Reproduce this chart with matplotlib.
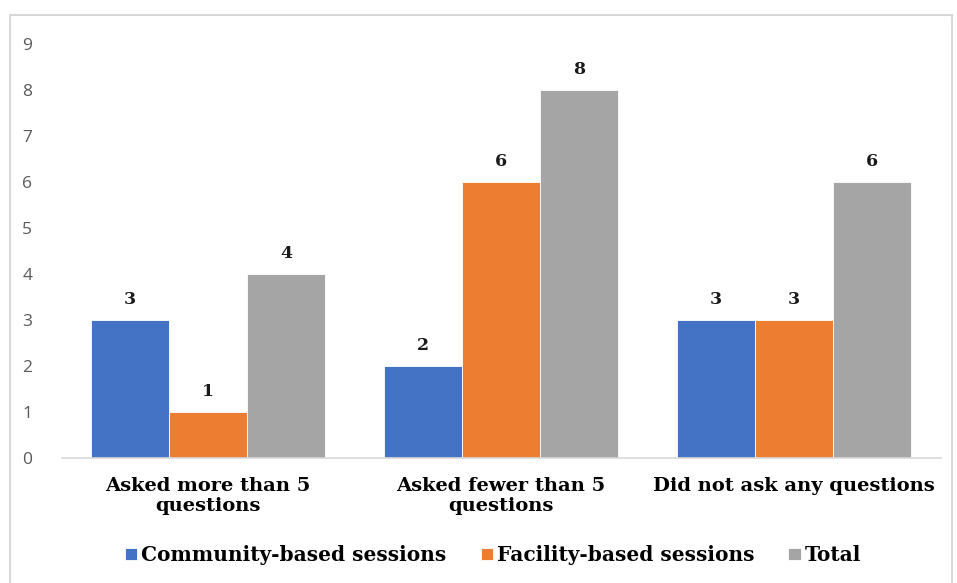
import numpy as np
import matplotlib.pyplot as plt
from matplotlib.patches import Rectangle

categories = ['Asked more than 5\nquestions', 'Asked fewer than 5\nquestions', 'Did not ask any questions']
community = [3, 2, 3]
facility = [1, 6, 3]
total = [4, 8, 6]
series_names = ['Community-based sessions', 'Facility-based sessions', 'Total']
colors = ['#4472C4', '#ED7D31', '#A5A5A5']

serif = 'DejaVu Serif'

fig = plt.figure(figsize=(9.57, 5.83), dpi=100)
fig.patches.append(Rectangle((9.5 / 957, -0.01), 942 / 957, 568 / 583 + 0.01, transform=fig.transFigure,
                             fill=False, edgecolor='#D9D9D9', linewidth=1.5))
ax = fig.add_axes([61.5 / 957, 125 / 583, 879 / 957, 414 / 583])

x = np.arange(len(categories))
w = 0.266
for i, (vals, name, c) in enumerate(zip([community, facility, total], series_names, colors)):
    bars = ax.bar(x + (i - 1) * w, vals, w, color=c, label=name, edgecolor='white', linewidth=0.6)
    for b, v in zip(bars, vals):
        ax.text(b.get_x() + b.get_width() / 2, v + 0.26, str(v), ha='center', va='bottom',
                fontsize=12.5, fontweight='bold', family=serif, color='#1a1a1a')

ax.set_xlim(-0.5, 2.5)
ax.set_ylim(0, 9)
ax.set_yticks(range(10))
ax.tick_params(axis='y', length=0, labelsize=12.5, labelcolor='#595959', pad=21)
ax.tick_params(axis='x', length=0, pad=14)
for lab in ax.get_yticklabels():
    lab.set_family('Open Sans')
ax.set_xticks(x)
ax.set_xticklabels(categories, fontsize=14, fontweight='bold', family=serif,
                   color='black', linespacing=1.1)
for s in ['top', 'right', 'left']:
    ax.spines[s].set_visible(False)
ax.spines['bottom'].set_color('#D9D9D9')
ax.spines['bottom'].set_linewidth(1.2)

leg = fig.legend(loc='center', bbox_to_anchor=(493 / 957, 1 - 555 / 583), ncol=3, frameon=False,
                 prop={'family': serif, 'weight': 'bold', 'size': 14.5},
                 handlelength=0.6, handleheight=0.6, handletextpad=0.2, columnspacing=1.7)

fig.savefig('out.png', dpi=100)
